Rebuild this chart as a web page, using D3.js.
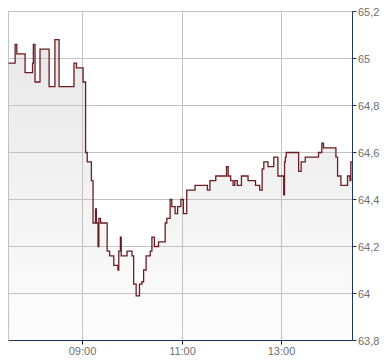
<!DOCTYPE html>
<meta charset="utf-8">
<html>
<head>
  <script src="https://d3js.org/d3.v7.min.js" charset="utf-8"></script>
</head>
<style>
* {
    font-family: "Liberation Sans", Arial, sans-serif;
}
body {
    margin: 0;
    background-color: white;
}
.grid line {
    stroke: #c3c3c3;
    stroke-width: 1;
}
.label {
    font-size: 11px;
    fill: #6f6f6f;
}
</style>
<body>
<div id="container"></div>
<script type="text/javascript">

// intraday prices (time, value)
var times = ["07:31","07:39","07:41","07:51","08:00","08:01","08:03","08:09","08:20","08:27",
             "08:32","08:50","08:53","09:01","09:04","09:06","09:11","09:13","09:16","09:17",
             "09:19","09:20","09:22","09:30","09:33","09:38","09:43","09:44","09:46","09:47",
             "09:54","10:00","10:02","10:05","10:09","10:12","10:14","10:17","10:22","10:24",
             "10:27","10:32","10:40","10:42","10:46","10:48","10:52","10:55","10:59","11:02",
             "11:06","11:16","11:31","11:34","11:41","11:54","11:56","11:59","12:02","12:04",
             "12:07","12:12","12:20","12:29","12:34","12:37","12:39","12:44","12:51","12:56",
             "13:03","13:04","13:05","13:06","13:21","13:24","13:29","13:45","13:49","13:51",
             "14:06","14:08","14:12","14:20","14:23","14:24","14:26"];
var prices = [64.98,65.06,65.02,64.94,64.98,65.06,64.90,65.04,64.88,65.08,
              64.88,64.98,64.96,64.90,64.60,64.56,64.48,64.30,64.36,64.30,
              64.20,64.32,64.30,64.18,64.16,64.12,64.10,64.18,64.24,64.16,
              64.18,64.16,64.04,63.99,64.04,64.05,64.10,64.16,64.18,64.24,
              64.20,64.22,64.30,64.32,64.40,64.37,64.34,64.37,64.40,64.34,
              64.44,64.46,64.44,64.48,64.50,64.54,64.50,64.48,64.46,64.48,
              64.46,64.50,64.48,64.46,64.44,64.53,64.56,64.54,64.58,64.50,
              64.42,64.56,64.58,64.60,64.52,64.56,64.58,64.60,64.64,64.62,
              64.58,64.50,64.46,64.50,64.48,64.56,64.56];

var xTicks = ["09:00","11:00","13:00"];
var yTicks = [63.8,64.0,64.2,64.4,64.6,64.8,65.0,65.2];
var xStart = "07:31", xEnd = "14:26";

var width = 390, height = 364;
var margin = {left: 8.5, top: 11.5, right: 37.5, bottom: 23.5};

var parse = d3.timeParse("%H:%M");
var data = times.map((t, i) => ({t: parse(t), v: prices[i]}));

const svg = d3.select("#container")
              .append("svg")
              .attr("width", width)
              .attr("height", height);

var xScale = d3.scaleTime()
               .domain([parse(xStart), parse(xEnd)])
               .range([margin.left, width - margin.right]);

var yScale = d3.scaleLinear()
               .domain([63.8, 65.2])
               .range([height - margin.bottom, margin.top]);

var x0 = margin.left, x1 = width - margin.right;
var y0 = height - margin.bottom, y1 = margin.top;
var px = (d) => Math.round(xScale(parse(d))) + 0.5;

// gradient for area
var grad = svg.append("defs").append("linearGradient")
              .attr("id", "fade")
              .attr("gradientUnits", "userSpaceOnUse")
              .attr("x1", 0).attr("y1", y1).attr("x2", 0).attr("y2", y0);
grad.append("stop").attr("offset", "0%").attr("stop-color", "#e6e6e6");
grad.append("stop").attr("offset", "100%").attr("stop-color", "#fdfdfd");

var area = d3.area()
             .curve(d3.curveStepAfter)
             .x((d) => xScale(d.t))
             .y0(y0)
             .y1((d) => yScale(d.v));

svg.append("path")
   .datum(data)
   .attr("fill", "url(#fade)")
   .attr("d", area);

// grid
var grid = svg.append("g").attr("class", "grid");
grid.selectAll(".hg")
    .data(yTicks.slice(1))
    .enter()
    .append("line")
    .attr("x1", x0).attr("x2", x1)
    .attr("y1", (d) => yScale(d)).attr("y2", (d) => yScale(d));
grid.selectAll(".vg")
    .data(xTicks)
    .enter()
    .append("line")
    .attr("x1", px).attr("x2", px)
    .attr("y1", y1).attr("y2", y0);
grid.append("line")
    .attr("x1", x0).attr("x2", x0)
    .attr("y1", y1).attr("y2", y0);

var line = d3.line()
             .curve(d3.curveStepAfter)
             .x((d) => xScale(d.t))
             .y((d) => yScale(d.v));

svg.append("path")
   .datum(data)
   .attr("fill", "none")
   .attr("stroke", "#6b1d23")
   .attr("stroke-width", 1.3)
   .attr("d", line);

// axes
var axisColor = "#1c3661";
svg.append("line")
   .attr("x1", x0).attr("x2", x1)
   .attr("y1", y0).attr("y2", y0)
   .attr("stroke", axisColor);
svg.append("line")
   .attr("x1", x1).attr("x2", x1)
   .attr("y1", y1).attr("y2", y0)
   .attr("stroke", axisColor);

svg.selectAll(".xt")
   .data(xTicks)
   .enter()
   .append("line")
   .attr("x1", px).attr("x2", px)
   .attr("y1", y0).attr("y2", y0 + 4)
   .attr("stroke", "#111");

svg.selectAll(".xl")
   .data(xTicks)
   .enter()
   .append("text")
   .attr("class", "label")
   .attr("x", px)
   .attr("y", y0 + 14)
   .attr("text-anchor", "middle")
   .text((d) => d);

svg.selectAll(".yt")
   .data(yTicks)
   .enter()
   .append("line")
   .attr("x1", x1).attr("x2", x1 + 4)
   .attr("y1", (d) => yScale(d)).attr("y2", (d) => yScale(d))
   .attr("stroke", axisColor);

var fmt = (d) => String(+d.toFixed(1)).replace(".", ",");

svg.selectAll(".yl")
   .data(yTicks)
   .enter()
   .append("text")
   .attr("class", "label")
   .attr("x", x1 + 5.5)
   .attr("y", (d) => yScale(d) + 4)
   .text(fmt);

</script>
</body>
</html>
